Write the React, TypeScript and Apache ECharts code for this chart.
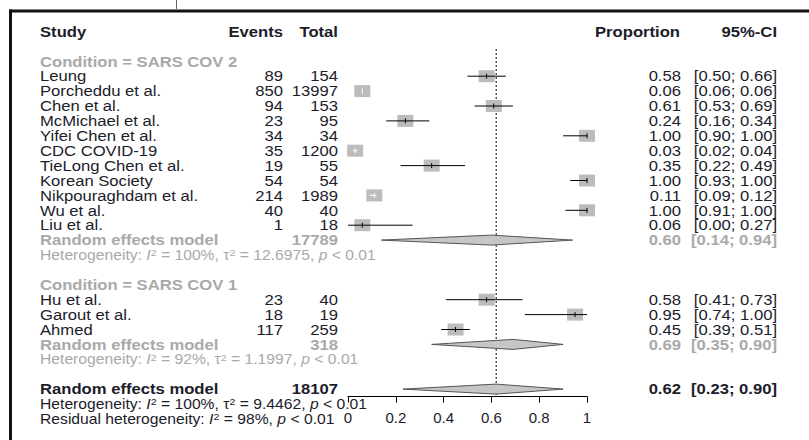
import React, { useEffect, useRef } from "react";
import * as echarts from "echarts";

// ---------- data ----------
const headers = ["Study", "Events", "Total", "Proportion", "95%-CI"];

const group1Label = "Condition = SARS COV 2";
const g1Studies = ["Leung", "Porcheddu et al.", "Chen et al.", "McMichael et al.", "Yifei Chen et al.", "CDC COVID-19", "TieLong Chen et al.", "Korean Society", "Nikpouraghdam et al.", "Wu et al.", "Liu et al."];
const g1Events = [89, 850, 94, 23, 34, 35, 19, 54, 214, 40, 1];
const g1Totals = [154, 13997, 153, 95, 34, 1200, 55, 54, 1989, 40, 18];
const g1Prop = [0.58, 0.06, 0.61, 0.24, 1.0, 0.03, 0.35, 1.0, 0.11, 1.0, 0.06];
const g1Lower = [0.5, 0.06, 0.53, 0.16, 0.9, 0.02, 0.22, 0.93, 0.09, 0.91, 0.0];
const g1Upper = [0.66, 0.06, 0.69, 0.34, 1.0, 0.04, 0.49, 1.0, 0.12, 1.0, 0.27];
const g1Summary = { total: 17789, est: 0.6, lo: 0.14, hi: 0.94 };
const g1Het = { i2: "100%", tau2: "12.6975" };

const group2Label = "Condition = SARS COV 1";
const g2Studies = ["Hu et al.", "Garout et al.", "Ahmed"];
const g2Events = [23, 18, 117];
const g2Totals = [40, 19, 259];
const g2Prop = [0.58, 0.95, 0.45];
const g2Lower = [0.41, 0.74, 0.39];
const g2Upper = [0.73, 1.0, 0.51];
const g2Summary = { total: 318, est: 0.69, lo: 0.35, hi: 0.9 };
const g2Het = { i2: "92%", tau2: "1.1997" };

const overall = { total: 18107, est: 0.62, lo: 0.23, hi: 0.9 };
const overallHet = { i2: "100%", tau2: "9.4462" };
const residualHet = { i2: "98%" };

// ---------- layout ----------
const ROW0 = 31.5;
const ROWH = 14.9;
const rowY = (r: number) => ROW0 + ROWH * r;
const FONT = "Liberation Sans";
const FS = 15;
const SX = 1.11;
const FS_HET = 14;
const SX_HET = 1.12;
const DARK = "#1c1c2a";
const GRAY = "#a9a9a9";
const COL = { study: 40, events: 283, total: 338, prop: 681, ci: 777 };

const f2 = (v: number) => v.toFixed(2);

function txt(x: number, row: number, text: string, opts: any = {}) {
  const fs = opts.fs || FS;
  return {
    type: "text",
    x,
    y: rowY(row),
    scaleX: opts.sx || SX,
    silent: true,
    style: {
      text,
      fill: opts.fill || DARK,
      font: `${opts.bold ? "bold " : ""}${fs}px "${FONT}"`,
      align: opts.align || "left",
      verticalAlign: "middle",
      rich: opts.rich,
    },
  };
}

function hetRich(fill: string) {
  return {
    i: { fontStyle: "italic", fontSize: FS_HET, fontFamily: FONT, fill },
    s: { fontSize: 9.5, fontFamily: FONT, fill, verticalAlign: "top" },
  };
}

function hetText(h: { i2: string; tau2: string }) {
  return `Heterogeneity: {i|I}{s|2} = ${h.i2}, τ{s|2} = ${h.tau2}, {i|p} < 0.01`;
}

export default function App() {
  const ref = useRef<HTMLDivElement>(null);
  useEffect(() => {
    if (!ref.current) return;
    const chart = echarts.init(ref.current, null, { renderer: "svg" });

    const g: any[] = [];
    // headers
    g.push(txt(COL.study, 0, headers[0], { bold: true }));
    g.push(txt(COL.events, 0, headers[1], { bold: true, align: "right" }));
    g.push(txt(COL.total, 0, headers[2], { bold: true, align: "right" }));
    g.push(txt(595, 0, headers[3], { bold: true }));
    g.push(txt(COL.ci, 0, headers[4], { bold: true, align: "right" }));

    const studyData: number[][] = [];
    const addStudies = (startRow: number, names: string[], ev: number[], tot: number[], p: number[], lo: number[], hi: number[]) => {
      names.forEach((n, i) => {
        const r = startRow + i;
        g.push(txt(COL.study, r, n));
        g.push(txt(COL.events, r, String(ev[i]), { align: "right" }));
        g.push(txt(COL.total, r, String(tot[i]), { align: "right" }));
        g.push(txt(COL.prop, r, f2(p[i]), { align: "right" }));
        g.push(txt(COL.ci, r, `[${f2(lo[i])}; ${f2(hi[i])}]`, { align: "right" }));
        studyData.push([r, p[i], lo[i], hi[i]]);
      });
    };
    const addSummary = (r: number, s: any, fill: string) => {
      g.push(txt(COL.study, r, "Random effects model", { bold: true, fill }));
      g.push(txt(COL.total, r, String(s.total), { bold: true, fill, align: "right" }));
      g.push(txt(COL.prop, r, f2(s.est), { bold: true, fill, align: "right" }));
      g.push(txt(COL.ci, r, `[${f2(s.lo)}; ${f2(s.hi)}]`, { bold: true, fill, align: "right" }));
    };
    const hetOpts = (fill: string) => ({ fill, rich: hetRich(fill), fs: FS_HET, sx: SX_HET });

    g.push(txt(COL.study, 2, group1Label, { bold: true, fill: GRAY }));
    addStudies(3, g1Studies, g1Events, g1Totals, g1Prop, g1Lower, g1Upper);
    addSummary(14, g1Summary, GRAY);
    g.push(txt(COL.study, 15, hetText(g1Het), hetOpts(GRAY)));

    g.push(txt(COL.study, 17, group2Label, { bold: true, fill: GRAY }));
    addStudies(18, g2Studies, g2Events, g2Totals, g2Prop, g2Lower, g2Upper);
    addSummary(21, g2Summary, GRAY);
    g.push(txt(COL.study, 22, hetText(g2Het), hetOpts(GRAY)));

    addSummary(24, overall, DARK);
    g.push(txt(COL.study, 25, hetText(overallHet), hetOpts(DARK)));
    g.push(txt(COL.study, 26, `Residual heterogeneity: {i|I}{s|2} = ${residualHet.i2}, {i|p} < 0.01`, hetOpts(DARK)));

    // frame
    g.push({ type: "line", silent: true, shape: { x1: 9, y1: 11, x2: 809, y2: 11 }, style: { stroke: "#111", lineWidth: 3 } });
    g.push({ type: "line", silent: true, shape: { x1: 10.5, y1: 9.5, x2: 10.5, y2: 440 }, style: { stroke: "#111", lineWidth: 3 } });
    g.push({ type: "line", silent: true, shape: { x1: 176.5, y1: 0, x2: 176.5, y2: 9 }, style: { stroke: "#666", lineWidth: 1 } });

    const summaryData = [
      [14, g1Summary.est, g1Summary.lo, g1Summary.hi],
      [21, g2Summary.est, g2Summary.lo, g2Summary.hi],
      [24, overall.est, overall.lo, overall.hi],
    ];

    const gridTop = rowY(-0.5);
    const gridBottomPx = rowY(24.5);

    chart.setOption({
      animation: false,
      grid: { left: 348, width: 239, top: gridTop, height: gridBottomPx - gridTop, containLabel: false },
      xAxis: {
        type: "value",
        position: "bottom",
        min: 0,
        max: 1,
        interval: 0.2,
        splitLine: { show: false },
        axisLine: { show: true, onZero: false, lineStyle: { color: "#000", width: 1 } },
        axisTick: { show: true, length: 6, lineStyle: { color: "#000", width: 1 } },
        axisLabel: {
          fontFamily: FONT,
          fontSize: FS,
          color: DARK,
          margin: 13,
          formatter: (v: number) => String(+v.toFixed(1)),
        },
      },
      yAxis: { type: "value", min: -0.5, max: 24.5, inverse: true, show: false },
      graphic: g,
      series: [
        {
          type: "line",
          data: [[overall.est, 1.17], [overall.est, 24.4]],
          symbol: "none",
          lineStyle: { color: "#000", width: 1, type: [2, 2] },
          silent: true,
          z: 1,
        },
        {
          type: "custom",
          silent: true,
          z: 3,
          data: studyData,
          encode: { x: [1, 2, 3], y: 0 },
          renderItem: (params: any, api: any) => {
            const row = api.value(0), est = api.value(1), lo = api.value(2), hi = api.value(3);
            const c = api.coord([est, row]);
            const l = api.coord([lo, row]);
            const h = api.coord([hi, row]);
            const w = 16, hh = 12;
            const inside = l[0] >= c[0] - w / 2 && h[0] <= c[0] + w / 2;
            const col = inside ? "#ffffff" : "#000000";
            return {
              type: "group",
              children: [
                { type: "rect", shape: { x: c[0] - w / 2, y: c[1] - hh / 2, width: w, height: hh }, style: { fill: "#bcbcbc" } },
                { type: "line", shape: { x1: l[0], y1: c[1], x2: h[0], y2: c[1] }, style: { stroke: col, lineWidth: 1 } },
                { type: "line", shape: { x1: c[0], y1: c[1] - 2.5, x2: c[0], y2: c[1] + 2.5 }, style: { stroke: col, lineWidth: 1 } },
              ],
            };
          },
        },
        {
          type: "custom",
          silent: true,
          z: 2,
          data: summaryData,
          encode: { x: [1, 2, 3], y: 0 },
          renderItem: (params: any, api: any) => {
            const row = api.value(0), est = api.value(1), lo = api.value(2), hi = api.value(3);
            const c = api.coord([est, row]);
            const l = api.coord([lo, row]);
            const h = api.coord([hi, row]);
            const hh = 5;
            return {
              type: "polygon",
              shape: { points: [[l[0], c[1]], [c[0], c[1] - hh], [h[0], c[1]], [c[0], c[1] + hh]] },
              style: { fill: "#c6c6c6", stroke: "#555", lineWidth: 1 },
            };
          },
        },
      ],
    });
    return () => chart.dispose();
  }, []);
  return <div ref={ref} style={{ position: "fixed", left: 0, top: 0, width: 809, height: 440, background: "#fff" }} />;
}
